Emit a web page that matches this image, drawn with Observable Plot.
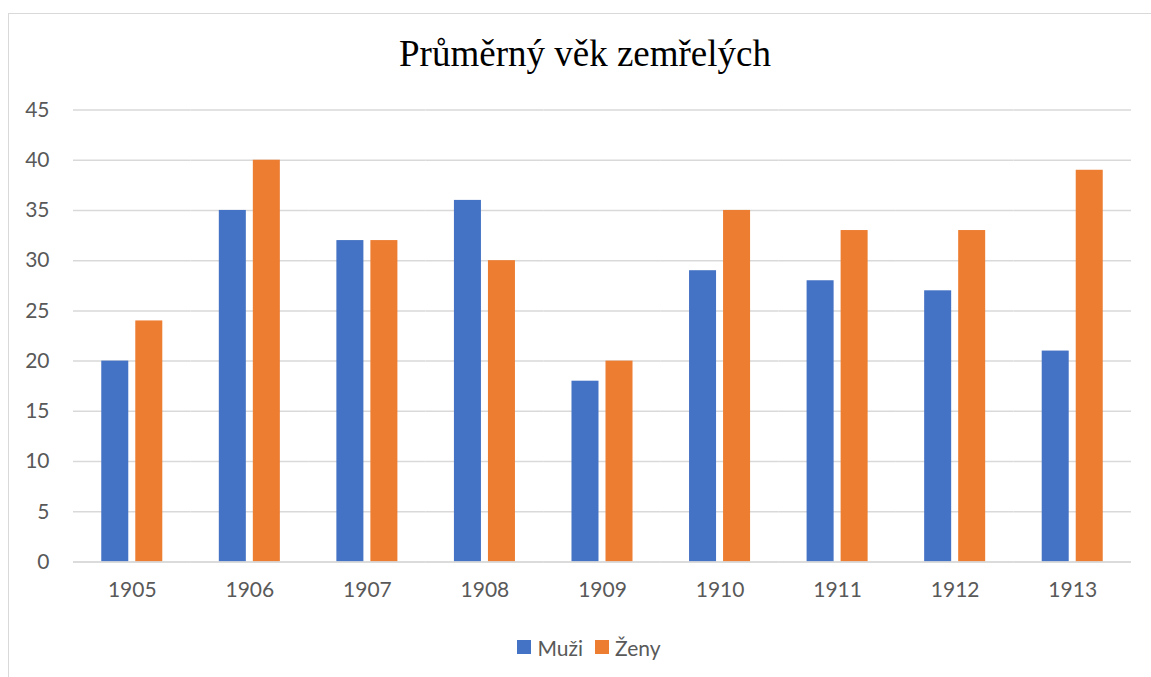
<!DOCTYPE html>
<html>
<head>
<meta charset="utf-8">
<script src="https://cdn.jsdelivr.net/npm/d3@7"></script>
<script src="https://cdn.jsdelivr.net/npm/@observablehq/plot@0.6"></script>
<style>
  html, body { margin: 0; padding: 0; background: #fff; overflow: hidden; }
  #frame { position: absolute; left: 8px; top: 13px; width: 1200px; height: 700px; border: 1.5px solid #d9d9d9; box-sizing: border-box; }
  #title { position: absolute; left: 0; width: 1170px; top: 32px; text-align: center; font-family: "Liberation Serif", "Times New Roman", serif; font-size: 37px; color: #000; }
  #chart { position: absolute; left: 0; top: 0; }
  #legend { position: absolute; top: 633px; left: 0; width: 1178px; text-align: center; font-family: Lato, "Open Sans", sans-serif; font-size: 21px; color: #595959; }
  #legend span.item { display: inline-flex; align-items: center; margin: 0 6px; }
  #legend span.sw { display: inline-block; width: 14px; height: 14px; margin-right: 6px; }
</style>
</head>
<body>
<div id="frame"></div>
<div id="chart"></div>
<div id="title">Průměrný věk zemřelých</div>
<div id="legend"></div>
<script>
const years = ["1905","1906","1907","1908","1909","1910","1911","1912","1913"];
const series = ["Muži","Ženy"];
const muzi = [20, 35, 32, 36, 18, 29, 28, 27, 21];
const zeny = [24, 40, 32, 30, 20, 35, 33, 33, 39];
const colors = ["#4472C4", "#ED7D31"];
const yTicks = [0,5,10,15,20,25,30,35,40,45];

const data = [];
years.forEach((y, i) => {
  data.push({year: y, series: series[0], value: muzi[i]});
  data.push({year: y, series: series[1], value: zeny[i]});
});

const plot = Plot.plot({
  width: 1151,
  height: 677,
  marginTop: 109.5,
  marginBottom: 115.5,
  marginLeft: 73,
  marginRight: 20,
  style: {fontFamily: "Lato, 'Open Sans', sans-serif", fontSize: "21px", color: "#595959", background: "transparent"},
  fx: {domain: years, padding: 0, round: false, label: null},
  x: {domain: series, paddingInner: 0.206, paddingOuter: 0.831, round: false, axis: null},
  y: {domain: [0, 45], label: null},
  color: {domain: series, range: colors},
  marks: [
    Plot.gridY(yTicks, {stroke: "#d9d9d9", strokeOpacity: 1, strokeWidth: 1.5}),
    Plot.axisY({ticks: yTicks, tickSize: 0, tickPadding: 24, label: null, fill: "#595959"}),
    Plot.axisFx({anchor: "bottom", tickSize: 0, tickPadding: 20, label: null, fill: "#595959"}),
    Plot.barY(data, {fx: "year", x: "series", y: "value", fill: "series"}),
    Plot.ruleY([0], {stroke: "#d9d9d9", strokeWidth: 1.5})
  ]
});
document.getElementById("chart").appendChild(plot);

const legend = document.getElementById("legend");
series.forEach((s, i) => {
  const item = document.createElement("span");
  item.className = "item";
  const sw = document.createElement("span");
  sw.className = "sw";
  sw.style.background = colors[i];
  item.appendChild(sw);
  item.appendChild(document.createTextNode(s));
  legend.appendChild(item);
});
</script>
</body>
</html>
